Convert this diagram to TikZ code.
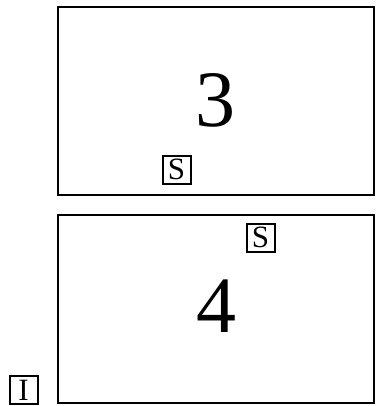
\documentclass[tikz,border=0pt]{standalone}
\usepackage{fontspec}
\setmainfont{Liberation Serif}
\begin{document}
\begin{tikzpicture}[x=1pt,y=-1pt,
  panel/.style={draw,line width=2.4pt,inner sep=0pt,minimum width=316pt,minimum height=188pt},
  tag/.style={draw,line width=2pt,minimum size=28pt,inner sep=0pt,font=\fontsize{31}{31}\selectfont},
  big/.style={font=\fontsize{80}{80}\selectfont,inner sep=0pt}]
\useasboundingbox (0,0) rectangle (376,406);
\node[panel] (p3) at (216,101) {};
\node[panel] (p4) at (216,309) {};
\node[big] (n3) at (215,100) {3};
\node[big] (n4) at (216,306) {4};
\node[tag] (s1) at (176.5,169.5) {S};
\node[tag] (s2) at (260.5,237.5) {S};
\node[tag] (i1) at (23.5,390) {I};
\end{tikzpicture}
\end{document}
